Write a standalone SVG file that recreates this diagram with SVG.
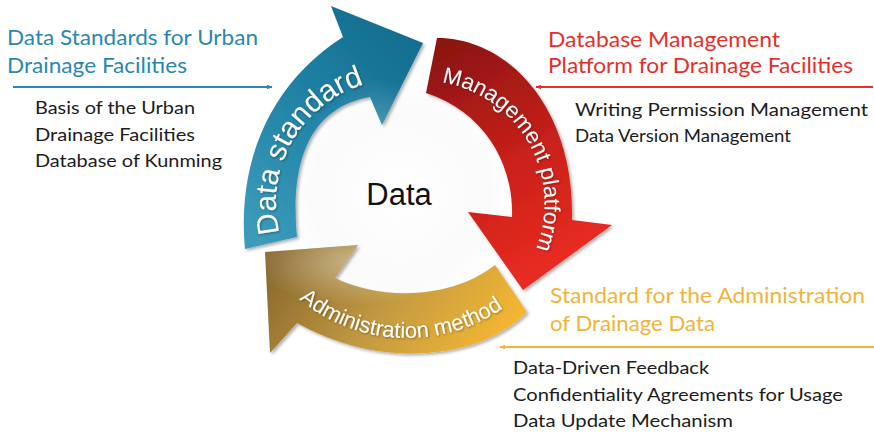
<svg xmlns="http://www.w3.org/2000/svg" width="874" height="434" viewBox="0 0 874 434">
<defs>
<style>
.lbl{font-family:Lato,"Open Sans","Noto Sans",sans-serif}
.title{font-size:22px}
.body{font-size:18px;fill:#1c1c1c}
.blue{fill:#2a88ae}
.red{fill:#e3302a}
.gold{fill:#f0b43a}
.arc{font-family:"Liberation Sans",Arial,sans-serif;fill:#ffffff}
.conn{stroke-width:1.8;fill:none}
</style>
<linearGradient id="gBlue" x1="0.85" y1="0" x2="0.15" y2="1">
<stop offset="0" stop-color="#126b8b"/>
<stop offset="0.5" stop-color="#2082a5"/>
<stop offset="1" stop-color="#3c9aba"/>
</linearGradient>
<radialGradient id="gBlueHi" cx="0.75" cy="0.75" r="0.45">
<stop offset="0" stop-color="#ffffff" stop-opacity="0.45"/>
<stop offset="1" stop-color="#ffffff" stop-opacity="0"/>
</radialGradient>
<linearGradient id="gRed" x1="0.2" y1="0" x2="0.6" y2="1">
<stop offset="0" stop-color="#8c1511"/>
<stop offset="0.5" stop-color="#c8201a"/>
<stop offset="1" stop-color="#ec2d22"/>
</linearGradient>
<linearGradient id="gGold" x1="0" y1="0.3" x2="1" y2="0.6">
<stop offset="0" stop-color="#8a6a2d"/>
<stop offset="0.5" stop-color="#c39a42"/>
<stop offset="1" stop-color="#f5b732"/>
</linearGradient>
<radialGradient id="gGoldHi" cx="0.35" cy="0.15" r="0.4">
<stop offset="0" stop-color="#ffffff" stop-opacity="0.4"/>
<stop offset="1" stop-color="#ffffff" stop-opacity="0"/>
</radialGradient>
<radialGradient id="gCore" cx="0.5" cy="0.5" r="0.5">
<stop offset="0" stop-color="#ffffff"/>
<stop offset="0.75" stop-color="#fafafa"/>
<stop offset="1" stop-color="#ffffff"/>
</radialGradient>
<filter id="shadow" x="-10%" y="-10%" width="130%" height="130%">
<feDropShadow dx="2" dy="2" stdDeviation="1.5" flood-color="#000" flood-opacity="0.3"/>
</filter>
<filter id="tshadow" x="-5%" y="-5%" width="110%" height="110%">
<feDropShadow dx="1" dy="1" stdDeviation="0.8" flood-color="#000" flood-opacity="0.35"/>
</filter>
<marker id="mBlue" viewBox="0 0 10 10" refX="9" refY="5" markerWidth="6" markerHeight="6" orient="auto" markerUnits="userSpaceOnUse"><path d="M0,1 L10,5 L0,9 Z" fill="#2a88ae"/></marker>
<marker id="mRed" viewBox="0 0 10 10" refX="9" refY="5" markerWidth="6" markerHeight="6" orient="auto" markerUnits="userSpaceOnUse"><path d="M0,1 L10,5 L0,9 Z" fill="#e3302a"/></marker>
<marker id="mGold" viewBox="0 0 10 10" refX="9" refY="5" markerWidth="6" markerHeight="6" orient="auto" markerUnits="userSpaceOnUse"><path d="M0,1 L10,5 L0,9 Z" fill="#f0b43a"/></marker>
<path id="pBlue" d="M281,238 A124,124 0 0 1 369.2,82.9"/>
<path id="pRed" d="M430.1,81 A123,123 0 0 1 531.1,259.5"/>
<path id="pGold" d="M291.1,292.3 A170,170 0 0 0 511.7,302"/>
</defs>
<rect width="874" height="434" fill="#ffffff"/>

<g id="core">
<circle cx="400" cy="195" r="115" fill="url(#gCore)"/>
<text x="399" y="205" text-anchor="middle" font-family="'Liberation Sans',Arial,sans-serif" font-size="31" fill="#111111">Data</text>
</g>

<g id="arrow-standard">
<path d="M245,249 C237,165 268,85 343,37 L331,6 L423,43 L382,125 L370,97 C325,105 288,140 297,237 Z" fill="url(#gBlue)" filter="url(#shadow)"/>
<path d="M245,249 C237,165 268,85 343,37 L331,6 L423,43 L382,125 L370,97 C325,105 288,140 297,237 Z" fill="url(#gBlueHi)"/>
<text class="arc" font-size="30" filter="url(#tshadow)"><textPath href="#pBlue" startOffset="50%" text-anchor="middle">Data standard</textPath></text>
</g>

<g id="arrow-platform">
<path d="M437,38 C510,38 575,110 572,220 L612,225 L523,290 L468,212 L512,217 C514,165 485,112 426,93 Z" fill="url(#gRed)" filter="url(#shadow)"/>
<text class="arc" font-size="22.5" filter="url(#tshadow)"><textPath href="#pRed" startOffset="50%" text-anchor="middle">Management platform</textPath></text>
</g>

<g id="arrow-method">
<path d="M265,252 L358,245 L335,278 C380,300 450,300 495,265 L527,312 C480,360 380,370 297,323 L270,353 Z" fill="url(#gGold)" filter="url(#shadow)"/>
<path d="M265,252 L358,245 L335,278 C380,300 450,300 495,265 L527,312 C480,360 380,370 297,323 L270,353 Z" fill="url(#gGoldHi)"/>
<text class="arc" font-size="22" filter="url(#tshadow)"><textPath href="#pGold" startOffset="50%" text-anchor="middle">Administration method</textPath></text>
</g>

<g id="connectors">
<path class="conn" d="M13,87 H272" stroke="#2a88ae" marker-end="url(#mBlue)"/>
<path class="conn" d="M873,87 H536" stroke="#e3302a" marker-end="url(#mRed)"/>
<path class="conn" d="M874,347 H500" stroke="#f0b43a" marker-end="url(#mGold)"/>
</g>

<g id="label-standard" class="lbl">
<text class="title blue" x="7" y="45" textLength="251" lengthAdjust="spacingAndGlyphs">Data Standards for Urban</text>
<text class="title blue" x="7" y="73" textLength="180" lengthAdjust="spacingAndGlyphs">Drainage Facilities</text>
<text class="body" x="35" y="114" textLength="160" lengthAdjust="spacingAndGlyphs">Basis of the Urban</text>
<text class="body" x="35" y="141" textLength="160" lengthAdjust="spacingAndGlyphs">Drainage Facilities</text>
<text class="body" x="35" y="167" textLength="187" lengthAdjust="spacingAndGlyphs">Database of Kunming</text>
</g>

<g id="label-platform" class="lbl">
<text class="title red" x="548" y="47" textLength="232" lengthAdjust="spacingAndGlyphs">Database Management</text>
<text class="title red" x="548" y="73" textLength="305" lengthAdjust="spacingAndGlyphs">Platform for Drainage Facilities</text>
<text class="body" x="575" y="116" textLength="293" lengthAdjust="spacingAndGlyphs">Writing Permission Management</text>
<text class="body" x="575" y="142" textLength="216" lengthAdjust="spacingAndGlyphs">Data Version Management</text>
</g>

<g id="label-method" class="lbl">
<text class="title gold" x="550" y="303" textLength="315" lengthAdjust="spacingAndGlyphs">Standard for the Administration</text>
<text class="title gold" x="550" y="331" textLength="165" lengthAdjust="spacingAndGlyphs">of Drainage Data</text>
<text class="body" x="513" y="374" textLength="196" lengthAdjust="spacingAndGlyphs">Data-Driven Feedback</text>
<text class="body" x="513" y="401" textLength="330" lengthAdjust="spacingAndGlyphs">Confidentiality Agreements for Usage</text>
<text class="body" x="513" y="427" textLength="220" lengthAdjust="spacingAndGlyphs">Data Update Mechanism</text>
</g>
</svg>
